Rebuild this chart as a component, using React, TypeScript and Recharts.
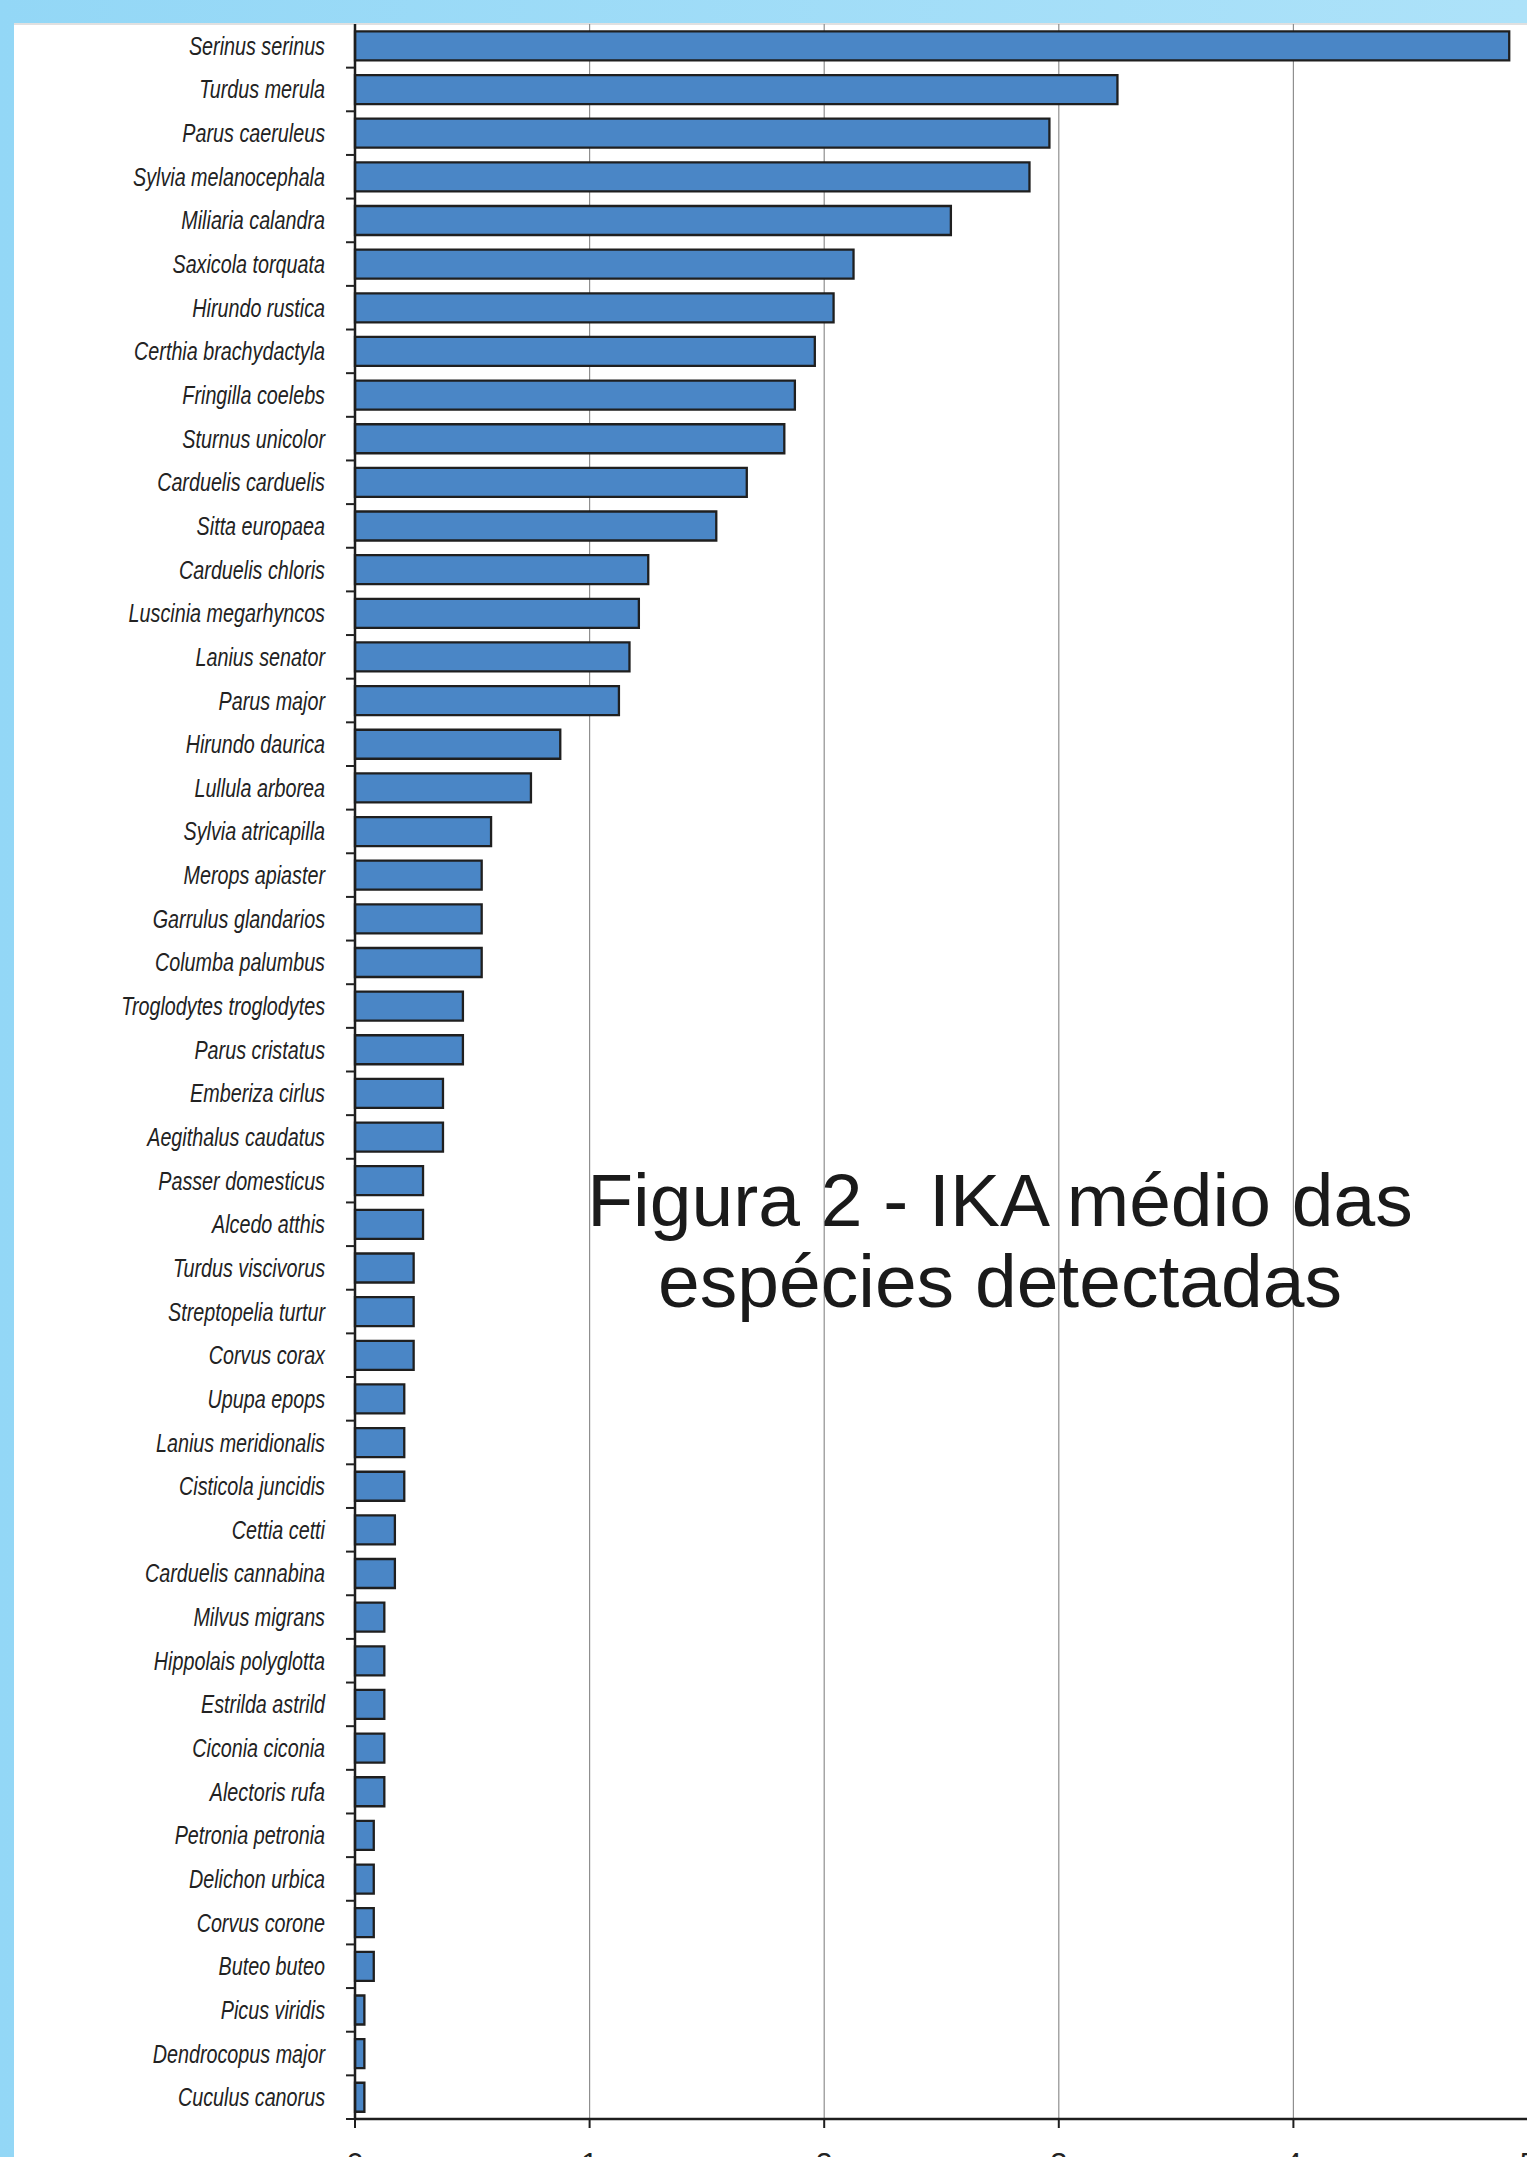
import React from "react";
import { BarChart, Bar, XAxis, YAxis, CartesianGrid } from "recharts";

// species, top to bottom as in the figure
const species = [
  "Serinus serinus",
  "Turdus merula",
  "Parus caeruleus",
  "Sylvia melanocephala",
  "Miliaria calandra",
  "Saxicola torquata",
  "Hirundo rustica",
  "Certhia brachydactyla",
  "Fringilla coelebs",
  "Sturnus unicolor",
  "Carduelis carduelis",
  "Sitta europaea",
  "Carduelis chloris",
  "Luscinia megarhyncos",
  "Lanius senator",
  "Parus major",
  "Hirundo daurica",
  "Lullula arborea",
  "Sylvia atricapilla",
  "Merops apiaster",
  "Garrulus glandarios",
  "Columba palumbus",
  "Troglodytes troglodytes",
  "Parus cristatus",
  "Emberiza cirlus",
  "Aegithalus caudatus",
  "Passer domesticus",
  "Alcedo atthis",
  "Turdus viscivorus",
  "Streptopelia turtur",
  "Corvus corax",
  "Upupa epops",
  "Lanius meridionalis",
  "Cisticola juncidis",
  "Cettia cetti",
  "Carduelis cannabina",
  "Milvus migrans",
  "Hippolais polyglotta",
  "Estrilda astrild",
  "Ciconia ciconia",
  "Alectoris rufa",
  "Petronia petronia",
  "Delichon urbica",
  "Corvus corone",
  "Buteo buteo",
  "Picus viridis",
  "Dendrocopus major",
  "Cuculus canorus",
];

// IKA médio
const ika = [
  4.92, 3.25, 2.96, 2.875, 2.54, 2.125, 2.04, 1.96, 1.875, 1.83, 1.67, 1.54,
  1.25, 1.21, 1.17, 1.125, 0.875, 0.75, 0.58, 0.54, 0.54, 0.54, 0.46, 0.46,
  0.375, 0.375, 0.29, 0.29, 0.25, 0.25, 0.25, 0.21, 0.21, 0.21, 0.17, 0.17,
  0.125, 0.125, 0.125, 0.125, 0.125, 0.08, 0.08, 0.08, 0.08, 0.04, 0.04, 0.04,
];

const xTicks = [0, 1, 2, 3, 4, 5];

const titleLines = ["Figura 2 - IKA médio das", "espécies detectadas"];

const rows = species.map((name, i) => ({ name, value: ika[i] }));

const CHART_W = 1560;
const CHART_H = 2200;
const MARGIN = { top: 24, right: 32, left: 0, bottom: 41 };
const X_AXIS_H = 40;
const PLOT_H = CHART_H - MARGIN.top - MARGIN.bottom - X_AXIS_H;
const BAND = PLOT_H / species.length;

const SpeciesTick = (props: any) => {
  const { x, y, payload } = props;
  return (
    <g>
      <g transform={`translate(${x},${y}) scale(0.79,1)`}>
        <text
          x={0}
          y={0}
          dy={9}
          textAnchor="end"
          fontFamily="'Liberation Sans', Arial, sans-serif"
          fontStyle="italic"
          fontSize={25}
          fill="#222"
        >
          {payload.value}
        </text>
      </g>
      <line
        x1={x + 21}
        x2={x + 30}
        y1={y + BAND / 2}
        y2={y + BAND / 2}
        stroke="#222"
        strokeWidth={2}
      />
    </g>
  );
};

export default function App() {
  return (
    <div
      style={{
        position: "absolute",
        left: 0,
        top: 0,
        width: 1527,
        height: 2157,
        overflow: "hidden",
        background: "linear-gradient(90deg, #93d7f6, #ade2f9)",
      }}
    >
      <div
        style={{
          position: "absolute",
          left: 14,
          top: 23,
          right: 0,
          bottom: 0,
          background: "#fff",
          borderTop: "2px solid #e0e0e0",
        }}
      />
      <div style={{ position: "absolute", left: 0, top: 0 }}>
        <BarChart
          width={CHART_W}
          height={CHART_H}
          data={rows}
          layout="vertical"
          margin={MARGIN}
          barCategoryGap="17%"
        >
          <CartesianGrid horizontal={false} stroke="#8f8f8f" strokeWidth={1.2} />
          <XAxis
            type="number"
            domain={[0, 5]}
            ticks={xTicks}
            height={X_AXIS_H}
            tickSize={9}
            tickMargin={24}
            axisLine={{ stroke: "#1e1e1e", strokeWidth: 2.5 }}
            tickLine={{ stroke: "#1e1e1e", strokeWidth: 2 }}
            tick={{ fontSize: 30, fill: "#222", fontFamily: "'Liberation Sans', Arial, sans-serif" }}
          />
          <YAxis
            type="category"
            dataKey="name"
            width={355}
            interval={0}
            tickSize={9}
            tickMargin={21}
            tickLine={false}
            axisLine={{ stroke: "#1e1e1e", strokeWidth: 2.5 }}
            tick={<SpeciesTick />}
          />
          <Bar
            dataKey="value"
            fill="#4a86c6"
            stroke="#1f1f1f"
            strokeWidth={2.3}
            isAnimationActive={false}
          />
        </BarChart>
      </div>
      <div
        style={{
          position: "absolute",
          left: 500,
          top: 1160,
          width: 1000,
          textAlign: "center",
          fontFamily: "'Liberation Sans', Arial, sans-serif",
          fontSize: 75,
          lineHeight: "81px",
          color: "#1a1a1a",
          whiteSpace: "nowrap",
        }}
      >
        {titleLines[0]}
        <br />
        {titleLines[1]}
      </div>
    </div>
  );
}
